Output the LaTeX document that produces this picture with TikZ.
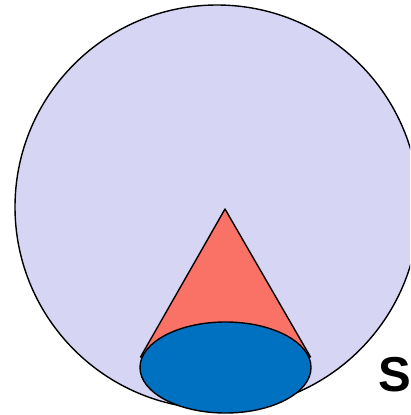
\documentclass[tikz,border=0pt]{standalone}
\usepackage{fontspec}
\setmainfont{Liberation Sans}
\definecolor{sphere}{RGB}{214,214,244}
\definecolor{conered}{RGB}{250,114,102}
\definecolor{baseblue}{RGB}{0,112,192}
\begin{document}
\begin{tikzpicture}[x=1pt,y=-1pt,
  outline/.style={draw=black,line width=1.4pt,line join=round}]
\useasboundingbox (0,0) rectangle (410,415);
\clip (0,0) rectangle (410,415);
% sphere
\fill[white] (0,0) rectangle (410,415);
\draw[outline,fill=sphere] (217,207) circle[radius=202];
% cone
\coordinate (apex) at (225,209);
\coordinate (bl) at (140.5,357);
\coordinate (br) at (310.5,357);
\draw[outline,fill=conered] (apex) -- (bl) -- (br) -- cycle;
% base
\draw[outline,fill=baseblue] (225.5,367.5) ellipse[x radius=85.5,y radius=45.5];
% label
\node[anchor=base west,inner sep=0pt,font=\fontsize{49}{52}\selectfont\bfseries] (lbl) at (378,391) {S};
\end{tikzpicture}
\end{document}
